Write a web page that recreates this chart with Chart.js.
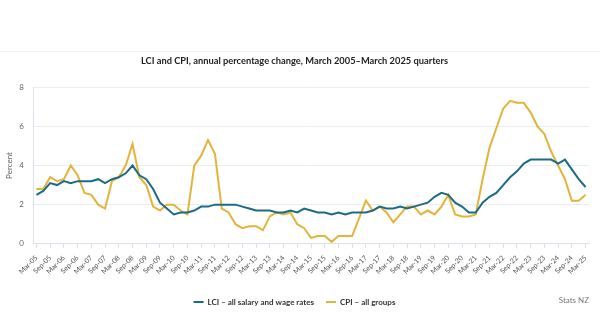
<!DOCTYPE html>
<html><head><meta charset="utf-8">
<script src="https://cdn.jsdelivr.net/npm/chart.js@4.4.1/dist/chart.umd.min.js"></script>
<style>html,body{margin:0;padding:0;background:#fff;}</style>
</head><body>
<canvas id="c" width="600" height="327"></canvas>
<script>
const quarters = [
 'Mar-05','Jun-05','Sep-05','Dec-05','Mar-06','Jun-06','Sep-06','Dec-06',
 'Mar-07','Jun-07','Sep-07','Dec-07','Mar-08','Jun-08','Sep-08','Dec-08',
 'Mar-09','Jun-09','Sep-09','Dec-09','Mar-10','Jun-10','Sep-10','Dec-10',
 'Mar-11','Jun-11','Sep-11','Dec-11','Mar-12','Jun-12','Sep-12','Dec-12',
 'Mar-13','Jun-13','Sep-13','Dec-13','Mar-14','Jun-14','Sep-14','Dec-14',
 'Mar-15','Jun-15','Sep-15','Dec-15','Mar-16','Jun-16','Sep-16','Dec-16',
 'Mar-17','Jun-17','Sep-17','Dec-17','Mar-18','Jun-18','Sep-18','Dec-18',
 'Mar-19','Jun-19','Sep-19','Dec-19','Mar-20','Jun-20','Sep-20','Dec-20',
 'Mar-21','Jun-21','Sep-21','Dec-21','Mar-22','Jun-22','Sep-22','Dec-22',
 'Mar-23','Jun-23','Sep-23','Dec-23','Mar-24','Jun-24','Sep-24','Dec-24',
 'Mar-25'
];
const lci = [
 2.5,2.7,3.1,3.0, 3.2,3.1,3.2,3.2, 3.2,3.3,3.1,3.3, 3.4,3.6,4.0,3.5,
 3.3,2.8,2.1,1.8, 1.5,1.6,1.6,1.7, 1.9,1.9,2.0,2.0, 2.0,2.0,1.9,1.8,
 1.7,1.7,1.7,1.6, 1.6,1.7,1.6,1.8, 1.7,1.6,1.6,1.5, 1.6,1.5,1.6,1.6,
 1.6,1.7,1.9,1.8, 1.8,1.9,1.8,1.9, 2.0,2.1,2.4,2.6, 2.5,2.1,1.9,1.6,
 1.6,2.1,2.4,2.6, 3.0,3.4,3.7,4.1, 4.3,4.3,4.3,4.3, 4.1,4.3,3.8,3.3,
 2.9
];
const cpi = [
 2.8,2.8,3.4,3.2, 3.3,4.0,3.5,2.6, 2.5,2.0,1.8,3.2, 3.4,4.0,5.1,3.4,
 3.0,1.9,1.7,2.0, 2.0,1.7,1.5,4.0, 4.5,5.3,4.6,1.8, 1.6,1.0,0.8,0.9,
 0.9,0.7,1.4,1.6, 1.5,1.6,1.0,0.8, 0.3,0.4,0.4,0.1, 0.4,0.4,0.4,1.3,
 2.2,1.7,1.9,1.6, 1.1,1.5,1.9,1.9, 1.5,1.7,1.5,1.9, 2.5,1.5,1.4,1.4,
 1.5,3.3,4.9,5.9, 6.9,7.3,7.2,7.2, 6.7,6.0,5.6,4.7, 4.0,3.3,2.2,2.2,
 2.5
];
const seriesNames = ['LCI \u2013 all salary and wage rates', 'CPI \u2013 all groups'];
const titleText = 'LCI and CPI, annual percentage change, March 2005\u2013March 2025 quarters';
const sourceText = 'Stats NZ';
const yAxisTitle = 'Percent';

const FONT = "Lato, 'Open Sans', sans-serif";

const extras = {
  id: 'extras',
  afterDraw(chart) {
    const ctx = chart.ctx;
    ctx.save();
    ctx.font = "8px " + FONT;
    ctx.fillStyle = '#777';
    ctx.textAlign = 'right';
    ctx.textBaseline = 'middle';
    ctx.fillText(sourceText, chart.chartArea.right, 300);
    ctx.strokeStyle = '#f0f0f0';
    ctx.lineWidth = 1;
    ctx.beginPath(); ctx.moveTo(0, 51.5); ctx.lineTo(600, 51.5); ctx.stroke();
    ctx.restore();
  }
};

new Chart(document.getElementById('c'), {
  type: 'line',
  data: {
    labels: quarters,
    datasets: [
      { label: seriesNames[0], data: lci, borderColor: '#1c6b86', backgroundColor: '#1c6b86', borderWidth: 2, pointRadius: 0, tension: 0 },
      { label: seriesNames[1], data: cpi, borderColor: '#e2b43c', backgroundColor: '#e2b43c', borderWidth: 2, pointRadius: 0, tension: 0 }
    ]
  },
  options: {
    responsive: false,
    animation: false,
    devicePixelRatio: 1,
    layout: { padding: { left: 0, right: 11, top: 0, bottom: 11 } },
    plugins: {
      title: {
        display: true, text: titleText, color: '#222',
        font: { family: FONT, size: 9.3, weight: 'bold' },
        padding: { top: 55, bottom: 21 }
      },
      legend: {
        position: 'bottom',
        labels: {
          boxWidth: 10, boxHeight: 2, padding: 12, color: '#333',
          font: { family: FONT, size: 8, weight: 'bold' },
          generateLabels(chart) {
            return Chart.defaults.plugins.legend.labels.generateLabels(chart).map(l => ({ ...l, lineWidth: 0, fillStyle: l.strokeStyle }));
          }
        }
      },
      tooltip: { enabled: false }
    },
    scales: {
      x: {
        type: 'category', offset: true,
        afterFit(s) { s.height += 4; },
        grid: { drawOnChartArea: false, tickLength: 4, color: '#d9e0ec' },
        border: { color: '#d9e0ec' },
        ticks: {
          autoSkip: false, maxRotation: 45, minRotation: 45, padding: 6,
          color: '#555', font: { family: FONT, size: 7 },
          callback(v, i) { return i % 2 === 0 ? quarters[i] : null; }
        }
      },
      y: {
        min: 0, max: 8,
        afterFit(s) { s.width = 33; },
        grid: { color: '#e9ecf1', drawTicks: false },
        border: { color: '#dde3ee' },
        ticks: { stepSize: 2, padding: 9, color: '#666', font: { family: FONT, size: 8 } },
        title: { display: true, text: yAxisTitle, color: '#666', font: { family: FONT, size: 8 }, padding: { top: 5, bottom: 0 } }
      }
    }
  },
  plugins: [extras]
});
</script>
</body></html>
